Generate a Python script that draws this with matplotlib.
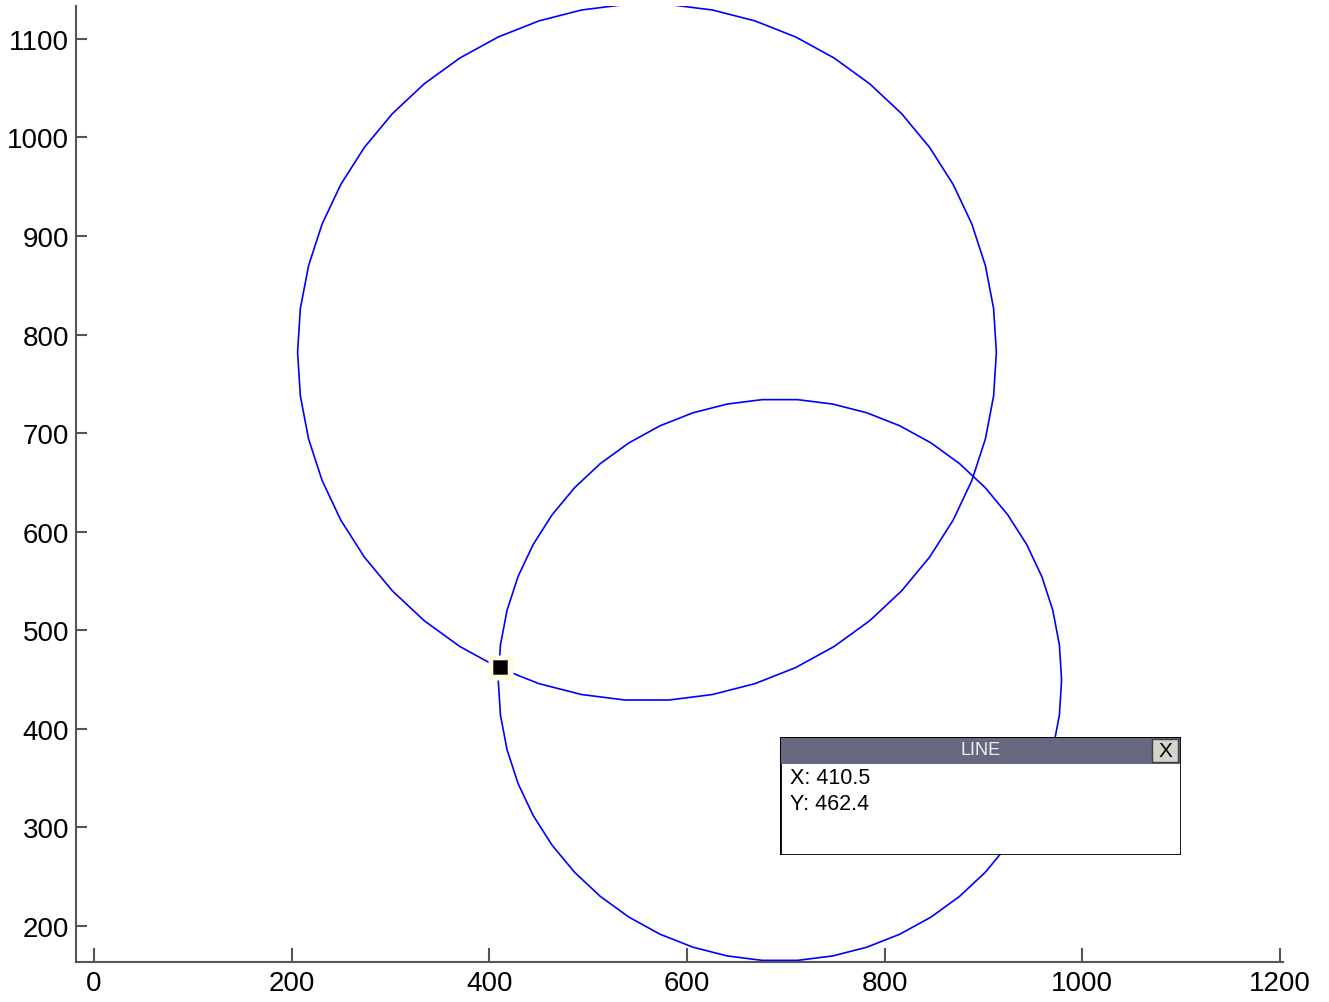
import numpy as np
import matplotlib.pyplot as plt
from matplotlib.patches import Rectangle, Polygon

# two circles drawn as 50-segment polygons
circle_cx = [559.5, 694.0]
circle_cy = [782.0, 449.5]
circle_r = [353.5, 285.0]
n_seg = 50

# data tip point
tip_x = 410.5
tip_y = 462.4

x_ticks = [0, 200, 400, 600, 800, 1000, 1200]
y_ticks = [200, 300, 400, 500, 600, 700, 800, 900, 1000, 1100]

plt.rcParams['font.family'] = ['Liberation Sans', 'DejaVu Sans']

W, H = 1329, 1003
fig = plt.figure(figsize=(W / 100, H / 100), dpi=100)
ax = fig.add_axes([76 / W, 1 - 963 / H, (1283 - 76) / W, (963 - 7) / H])

t = np.linspace(0, 2 * np.pi, n_seg, endpoint=False)
for cx, cy, r in zip(circle_cx, circle_cy, circle_r):
    pts = np.column_stack([cx + r * np.cos(t), cy + r * np.sin(t)])
    ax.add_patch(Polygon(pts, closed=True, fill=False, edgecolor='#0000ff', lw=1.2))

# highlighted data point
ax.plot(tip_x, tip_y, marker='s', ms=18, color='#fffbe0', mec='none', zorder=5)
ax.plot(tip_x, tip_y, marker='s', ms=10.5, color='black', mec='#444444', mew=0.6, zorder=6)

ax.set_xlim(-18.2, 1203)
ax.set_ylim(163.4, 1133.3)
ax.set_xticks(x_ticks)
ax.set_yticks(y_ticks)

for s in ['top', 'right']:
    ax.spines[s].set_visible(False)
for s in ['left', 'bottom']:
    ax.spines[s].set_color('#555555')
    ax.spines[s].set_linewidth(1.5)
ax.tick_params(axis='both', direction='in', color='#555555', width=1.5,
               labelsize=20, labelcolor='black')
ax.tick_params(axis='x', length=10, pad=6)
ax.tick_params(axis='y', length=8, pad=5)

# data tip box (matlab style)
bx = fig.add_axes([780 / W, 1 - 856 / H, 401 / W, 118 / H])
bx.set_xlim(0, 401)
bx.set_ylim(118, 0)
bx.axis('off')
bx.add_patch(Rectangle((0, 0), 401, 118, facecolor='white', edgecolor='black', lw=2))
bx.add_patch(Rectangle((1, 1), 399, 26, facecolor='#67677f', edgecolor='none'))
bx.add_patch(Rectangle((372, 2), 26, 23, facecolor='#d6d3ca', edgecolor='#404040', lw=1))
bx.text(201, 13, 'LINE', color='#f0f0f0', fontsize=13, ha='center', va='center')
bx.text(385, 14, 'X', color='black', fontsize=15, ha='center', va='center')
bx.text(10, 41, f'X: {tip_x}', fontsize=15.5, ha='left', va='center')
bx.text(10, 67, f'Y: {tip_y}', fontsize=15.5, ha='left', va='center')

fig.savefig('out.png', dpi=100)
